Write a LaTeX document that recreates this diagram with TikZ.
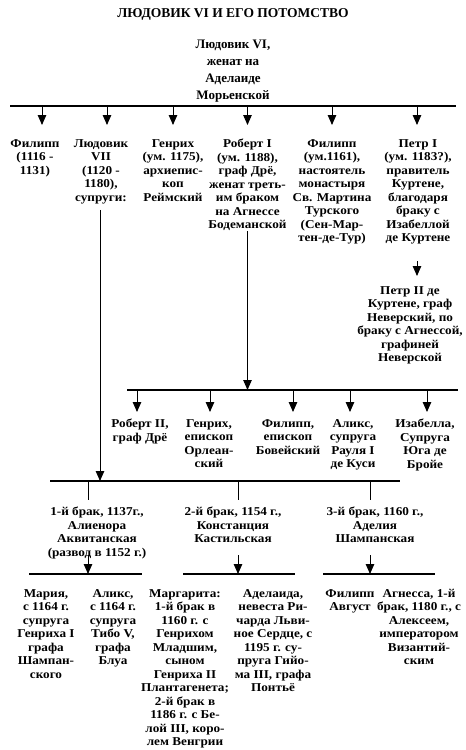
\documentclass[tikz,border=0pt]{standalone}
\usepackage{fontspec}
\setmainfont{Liberation Serif}
\newfontfamily\kidfont[FakeStretch=1.1]{Liberation Serif}
\usetikzlibrary{arrows.meta}

\begin{document}
\begin{tikzpicture}[x=1pt, y=-1pt,
    kid/.style={anchor=north, align=center, inner sep=0pt, font=\kidfont\bfseries\fontsize{12}{13.5}\selectfont},
    arr/.style={-{Triangle[width=8.5pt,length=10pt]}, line width=1pt},
    tick/.style={line width=1pt},
    bus/.style={line width=1.2pt}]
    \useasboundingbox (0,0) rectangle (466,750);

    % Title
    \node[font=\bfseries\fontsize{13.5}{16}\selectfont] (title) at (233,14) {ЛЮДОВИК VI И ЕГО ПОТОМСТВО};

    % Louis VI
    \node[kid, font=\bfseries\fontsize{13}{17}\selectfont] (louis6) at (233,40) {Людовик VI,\\женат на\\Аделаиде\\Морьенской};

    % Bus lines
    \coordinate (busAL) at (10,106);
    \coordinate (busAR) at (456,106);
    \coordinate (busBL) at (127,390);
    \coordinate (busBR) at (458,390);
    \coordinate (busCL) at (50,481);
    \coordinate (busCR) at (400,481);
    \coordinate (busD1L) at (29,574);
    \coordinate (busD1R) at (142,574);
    \coordinate (busD2L) at (183,574);
    \coordinate (busD2R) at (295,574);
    \coordinate (busD3L) at (323,574);
    \coordinate (busD3R) at (435,574);
    \draw[line width=2pt] (busAL) -- (busAR);
    \draw[bus] (busBL) -- (busBR);
    \draw[bus] (busCL) -- (busCR);
    \draw[bus] (busD1L) -- (busD1R);
    \draw[bus] (busD2L) -- (busD2R);
    \draw[bus] (busD3L) -- (busD3R);

    % Children of Louis VI
    \node[kid] (filipp1) at (35,139) {Филипп\\(1116 -\\1131)};
    \node[kid] (louis7) at (101,139) {Людовик\\VII\\(1120 -\\1180),\\супруги:};
    \node[kid] (henri1) at (173,139) {Генрих\\(ум. 1175),\\архиепис-\\коп\\Реймский};
    \node[kid] (robert1) at (247.5,139) {Роберт I\\(ум. 1188),\\граф Дрё,\\женат треть-\\им браком\\на Агнессе\\Бодеманской};
    \node[kid] (filipp2) at (332,139) {Филипп\\(ум.1161),\\настоятель\\монастыря\\Св. Мартина\\Турского\\(Сен-Мар-\\тен-де-Тур)};
    \node[kid] (pierre1) at (418,139) {Петр I\\(ум. 1183?),\\правитель\\Куртене,\\благодаря\\браку с\\Изабеллой\\де Куртене};
    \node[kid] (pierre2) at (410,286) {Петр II де\\Куртене, граф\\Неверский, по\\браку с Агнессой,\\графиней\\Неверской};

    \draw[arr, shorten >=14pt] ([xshift=7pt]filipp1.north |- busAL) -- ([xshift=7pt]filipp1.north);
    \draw[arr, shorten >=14pt] ([xshift=6pt]louis7.north |- busAL) -- ([xshift=6pt]louis7.north);
    \draw[arr, shorten >=14pt] (henri1.north |- busAL) -- (henri1.north);
    \draw[arr, shorten >=14pt] (robert1.north |- busAL) -- (robert1.north);
    \draw[arr, shorten >=14pt] (filipp2.north |- busAL) -- (filipp2.north);
    \draw[arr, shorten >=14pt] ([xshift=-1pt]pierre1.north |- busAL) -- ([xshift=-1pt]pierre1.north);
    \draw[arr, shorten <=17pt, shorten >=10pt] ([xshift=-1pt]pierre1.south) -- ([xshift=-1pt]pierre1.south |- pierre2.north);

    % Children of Robert I
    \draw[arr] (robert1.south) -- (robert1.south |- busBL);
    \node[kid] (robert2) at (140,419) {Роберт II,\\граф Дрё};
    \node[kid] (henri2) at (209,419) {Генрих,\\епископ\\Орлеан-\\ский};
    \node[kid] (filipp3) at (288,419) {Филипп,\\епископ\\Бовейский};
    \node[kid] (alix1) at (353,419) {Аликс,\\супруга\\Рауля I\\де Куси};
    \node[kid] (isabelle) at (425,419) {Изабелла,\\Супруга\\Юга де\\Бройе};
    \draw[arr, shorten >=7pt] ([xshift=-3pt]robert2.north |- busBL) -- ([xshift=-3pt]robert2.north);
    \draw[arr, shorten >=7pt] ([xshift=1pt]henri2.north |- busBL) -- ([xshift=1pt]henri2.north);
    \draw[arr, shorten >=7pt] ([xshift=5pt]filipp3.north |- busBL) -- ([xshift=5pt]filipp3.north);
    \draw[arr, shorten >=7pt] ([xshift=-3pt]alix1.north |- busBL) -- ([xshift=-3pt]alix1.north);
    \draw[arr, shorten >=7pt] ([xshift=2pt]isabelle.north |- busBL) -- ([xshift=2pt]isabelle.north);

    % Marriages of Louis VII
    \draw[arr, shorten <=6pt] ([xshift=-1pt]louis7.south) -- ([xshift=-1pt]louis7.south |- busCL);
    \node[kid] (wife1) at (97,507) {1-й брак, 1137г.,\\Алиенора\\Аквитанская\\(развод в 1152 г.)};
    \node[kid] (wife2) at (233,507) {2-й брак, 1154 г.,\\Констанция\\Кастильская};
    \node[kid] (wife3) at (375,507) {3-й брак, 1160 г.,\\Аделия\\Шампанская};
    \draw[tick, shorten >=7pt] ([xshift=-9pt]wife1.north |- busCL) -- ([xshift=-9pt]wife1.north);
    \draw[tick, shorten >=7pt] ([xshift=5pt]wife2.north |- busCL) -- ([xshift=5pt]wife2.north);
    \draw[tick, shorten >=7pt] ([xshift=-5pt]wife3.north |- busCL) -- ([xshift=-5pt]wife3.north);
    \draw[arr, shorten <=-4pt] ([xshift=-9pt]wife1.south) -- ([xshift=-9pt]wife1.south |- busD1L);
    \draw[arr, shorten <=12pt] ([xshift=5pt]wife2.south) -- ([xshift=5pt]wife2.south |- busD2L);
    \draw[arr, shorten <=12pt] ([xshift=-5pt]wife3.south) -- ([xshift=-5pt]wife3.south |- busD3L);

    % Children of Louis VII
    \node[kid] (marie) at (46,589) {Мария,\\с 1164 г.\\супруга\\Генриха I\\графа\\Шампан-\\ского};
    \node[kid] (alix2) at (113,589) {Аликс,\\с 1164 г.\\супруга\\Тибо V,\\графа\\Блуа};
    \node[kid] (marguerite) at (185,589) {Маргарита:\\1-й брак в\\1160 г. с\\Генрихом\\Младшим,\\сыном\\Генриха II\\Плантагенета;\\2-й брак в\\1186 г. с Бе-\\лой III, коро-\\лем Венгрии};
    \node[kid] (adelaide) at (273,589) {Аделаида,\\невеста Ри-\\чарда Льви-\\ное Сердце, с\\1195 г. су-\\пруга Гийо-\\ма III, графа\\Понтьё};
    \node[kid] (philippe) at (350,589) {Филипп\\Август};
    \node[kid] (agnes) at (419,589) {Агнесса, 1-й\\брак, 1180 г., с\\Алексеем,\\императором\\Византий-\\ским};
\end{tikzpicture}
\end{document}
